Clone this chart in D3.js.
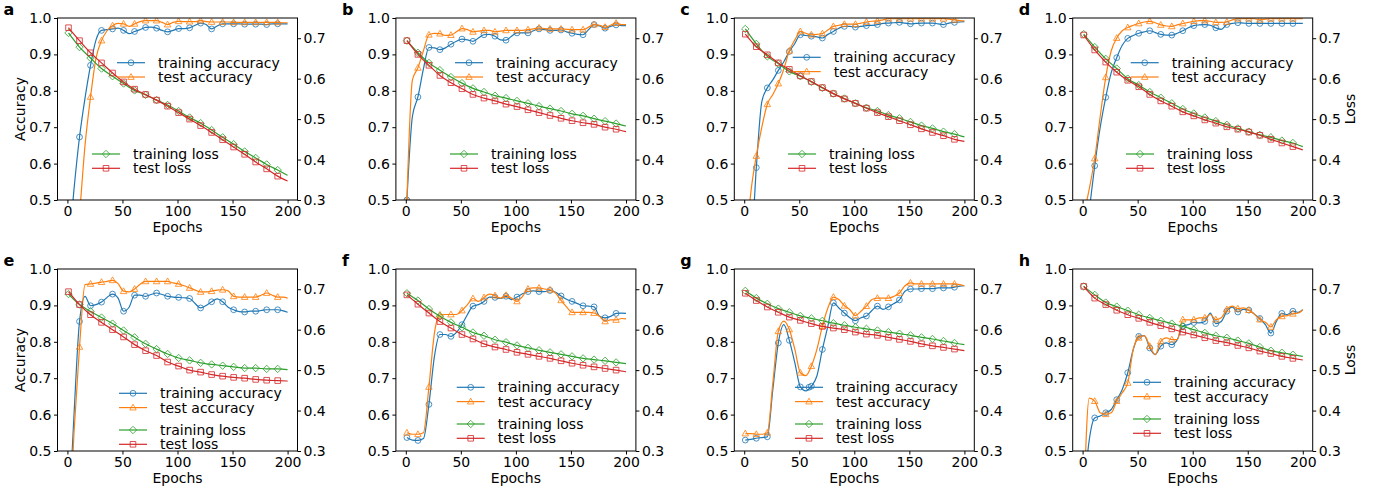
<!DOCTYPE html>
<html>
<head>
<meta charset="utf-8">
<script src="https://cdn.jsdelivr.net/npm/d3@7"></script>
<style>
  body { margin: 0; background: #fff; }
  svg { display: block; }
  text { font-family: "DejaVu Sans", sans-serif; }
</style>
</head>
<body>
<svg id="fig" width="1396" height="496"></svg>
<script>
// ---- epochs at which values are recorded ----
const accEpochs = [1, 6, 11, 16, 21, 26, 31, 36, 41, 46,
  51, 56, 61, 66, 71, 76, 81, 86, 91, 96,
  101, 106, 111, 116, 121, 126, 131, 136, 141, 146,
  151, 156, 161, 166, 171, 176, 181, 186, 191, 196, 200];
const lossEpochs = [1, 11, 21, 31, 41, 51, 61, 71, 81, 91, 101,
  111, 121, 131, 141, 151, 161, 171, 181, 191, 200];
const markerEpochs = [1, 11, 21, 31, 41, 51, 61, 71, 81, 91,
  101, 111, 121, 131, 141, 151, 161, 171, 181, 191];

// ---- tick labels ----
const xTicks = [0, 50, 100, 150, 200];
const accTicks = [0.5, 0.6, 0.7, 0.8, 0.9, 1.0];
const lossTicks = [0.3, 0.4, 0.5, 0.6, 0.7];
const panelLetters = ["a", "b", "c", "d", "e", "f", "g", "h"];
const seriesNames = ["training accuracy", "test accuracy", "training loss", "test loss"];

// ---- accuracy series ----
const accTrainA = [0.36, 0.53, 0.673, 0.78, 0.870, 0.94, 0.966, 0.968, 0.970, 0.972,
  0.966, 0.957, 0.963, 0.968, 0.974, 0.975, 0.972, 0.966, 0.962, 0.966,
  0.971, 0.971, 0.973, 0.980, 0.986, 0.982, 0.970, 0.978, 0.984, 0.984,
  0.984, 0.984, 0.983, 0.983, 0.983, 0.983, 0.982, 0.984, 0.984, 0.984, 0.984];
const accTestA = [0.15, 0.30, 0.46, 0.65, 0.783, 0.89, 0.938, 0.965, 0.979, 0.985,
  0.984, 0.977, 0.984, 0.990, 0.993, 0.993, 0.993, 0.988, 0.982, 0.988,
  0.991, 0.990, 0.990, 0.990, 0.993, 0.990, 0.989, 0.989, 0.989, 0.989,
  0.988, 0.988, 0.988, 0.988, 0.988, 0.988, 0.988, 0.988, 0.988, 0.987, 0.987];
const accTrainB = [0.50, 0.73, 0.783, 0.86, 0.919, 0.918, 0.913, 0.918, 0.928, 0.936,
  0.942, 0.940, 0.936, 0.945, 0.954, 0.955, 0.950, 0.940, 0.939, 0.950,
  0.959, 0.959, 0.959, 0.965, 0.970, 0.968, 0.966, 0.966, 0.967, 0.962,
  0.958, 0.955, 0.954, 0.968, 0.982, 0.978, 0.972, 0.977, 0.981, 0.979, 0.979];
const accTestB = [0.50, 0.83, 0.863, 0.91, 0.954, 0.958, 0.957, 0.952, 0.953, 0.962,
  0.971, 0.968, 0.962, 0.964, 0.966, 0.966, 0.962, 0.964, 0.966, 0.966,
  0.966, 0.966, 0.968, 0.970, 0.973, 0.971, 0.970, 0.970, 0.970, 0.969,
  0.968, 0.968, 0.968, 0.975, 0.982, 0.980, 0.975, 0.980, 0.986, 0.982, 0.982];
const accTrainC = [0.30, 0.35, 0.589, 0.77, 0.808, 0.83, 0.856, 0.88, 0.908, 0.93,
  0.954, 0.952, 0.950, 0.948, 0.945, 0.955, 0.963, 0.972, 0.977, 0.977,
  0.975, 0.977, 0.979, 0.980, 0.982, 0.985, 0.986, 0.987, 0.988, 0.986,
  0.984, 0.985, 0.986, 0.986, 0.986, 0.984, 0.982, 0.986, 0.988, 0.989, 0.990];
const accTestC = [0.35, 0.52, 0.621, 0.70, 0.763, 0.79, 0.820, 0.86, 0.910, 0.94,
  0.963, 0.958, 0.954, 0.955, 0.957, 0.967, 0.977, 0.980, 0.983, 0.983,
  0.983, 0.986, 0.989, 0.991, 0.992, 0.995, 0.998, 0.998, 0.998, 0.998,
  0.998, 0.998, 0.998, 0.998, 0.998, 0.998, 0.998, 0.997, 0.995, 0.993, 0.992];
const accTrainD = [0.35, 0.47, 0.594, 0.70, 0.782, 0.85, 0.891, 0.925, 0.944, 0.952,
  0.958, 0.962, 0.965, 0.960, 0.955, 0.953, 0.953, 0.958, 0.965, 0.973,
  0.979, 0.981, 0.982, 0.980, 0.973, 0.969, 0.982, 0.985, 0.987, 0.986,
  0.985, 0.985, 0.985, 0.985, 0.985, 0.985, 0.985, 0.985, 0.985, 0.985, 0.985];
const accTestD = [0.46, 0.53, 0.614, 0.73, 0.837, 0.91, 0.945, 0.965, 0.974, 0.980,
  0.985, 0.989, 0.991, 0.987, 0.981, 0.978, 0.977, 0.981, 0.985, 0.988,
  0.991, 0.993, 0.993, 0.991, 0.988, 0.988, 0.989, 0.995, 0.998, 0.998,
  0.998, 0.998, 0.995, 0.997, 0.998, 0.998, 0.998, 0.998, 0.998, 0.998, 0.998];
const accTrainE = [0.30, 0.60, 0.856, 0.925, 0.899, 0.902, 0.909, 0.922, 0.931, 0.920,
  0.884, 0.895, 0.928, 0.928, 0.925, 0.930, 0.934, 0.930, 0.925, 0.923,
  0.922, 0.921, 0.919, 0.905, 0.893, 0.900, 0.910, 0.918, 0.910, 0.895,
  0.888, 0.883, 0.882, 0.884, 0.884, 0.886, 0.888, 0.888, 0.888, 0.885, 0.881];
const accTestE = [0.25, 0.55, 0.786, 0.957, 0.959, 0.961, 0.964, 0.966, 0.969, 0.960,
  0.939, 0.937, 0.945, 0.958, 0.966, 0.966, 0.966, 0.966, 0.966, 0.962,
  0.959, 0.954, 0.948, 0.942, 0.937, 0.937, 0.939, 0.942, 0.943, 0.940,
  0.925, 0.923, 0.923, 0.923, 0.923, 0.928, 0.934, 0.928, 0.923, 0.923, 0.920];
const accTrainF = [0.537, 0.530, 0.529, 0.534, 0.628, 0.760, 0.820, 0.820, 0.815, 0.826,
  0.847, 0.875, 0.898, 0.902, 0.911, 0.923, 0.922, 0.919, 0.925, 0.916,
  0.923, 0.932, 0.938, 0.940, 0.938, 0.938, 0.941, 0.936, 0.926, 0.917,
  0.911, 0.905, 0.899, 0.898, 0.896, 0.870, 0.866, 0.870, 0.878, 0.879, 0.878];
const accTestF = [0.550, 0.546, 0.546, 0.550, 0.676, 0.824, 0.874, 0.875, 0.875, 0.875,
  0.886, 0.902, 0.919, 0.911, 0.922, 0.931, 0.927, 0.920, 0.928, 0.920,
  0.911, 0.925, 0.945, 0.948, 0.948, 0.945, 0.943, 0.934, 0.914, 0.896,
  0.881, 0.881, 0.881, 0.881, 0.879, 0.870, 0.856, 0.860, 0.860, 0.864, 0.863];
const accTrainG = [0.530, 0.532, 0.535, 0.537, 0.539, 0.669, 0.797, 0.847, 0.804, 0.742,
  0.676, 0.665, 0.678, 0.706, 0.779, 0.843, 0.907, 0.893, 0.879, 0.866,
  0.858, 0.866, 0.871, 0.886, 0.898, 0.889, 0.896, 0.905, 0.915, 0.939,
  0.945, 0.945, 0.946, 0.946, 0.946, 0.948, 0.948, 0.948, 0.950, 0.953, 0.954];
const accTestG = [0.548, 0.548, 0.546, 0.546, 0.550, 0.687, 0.829, 0.857, 0.834, 0.779,
  0.715, 0.707, 0.733, 0.779, 0.843, 0.893, 0.923, 0.916, 0.899, 0.888,
  0.872, 0.884, 0.898, 0.916, 0.920, 0.920, 0.920, 0.925, 0.934, 0.954,
  0.962, 0.959, 0.959, 0.959, 0.959, 0.959, 0.959, 0.959, 0.959, 0.957, 0.954];
const accTrainH = [0.38, 0.53, 0.591, 0.596, 0.605, 0.614, 0.641, 0.669, 0.715, 0.779,
  0.815, 0.817, 0.783, 0.765, 0.788, 0.797, 0.792, 0.806, 0.843, 0.847,
  0.853, 0.852, 0.856, 0.879, 0.850, 0.856, 0.884, 0.895, 0.882, 0.889,
  0.887, 0.876, 0.864, 0.847, 0.824, 0.856, 0.878, 0.875, 0.884, 0.881, 0.888];
const accTestH = [0.35, 0.645, 0.637, 0.605, 0.601, 0.605, 0.637, 0.660, 0.687, 0.779,
  0.811, 0.817, 0.788, 0.765, 0.801, 0.811, 0.806, 0.806, 0.861, 0.860,
  0.861, 0.866, 0.866, 0.875, 0.861, 0.866, 0.889, 0.898, 0.891, 0.893,
  0.887, 0.876, 0.861, 0.854, 0.841, 0.861, 0.870, 0.872, 0.877, 0.879, 0.888];

// ---- loss series ----
const lossTrainA = [0.713, 0.678, 0.651, 0.625, 0.606, 0.588, 0.571, 0.560, 0.547, 0.535, 0.520,
  0.504, 0.490, 0.473, 0.455, 0.438, 0.420, 0.404, 0.388, 0.374, 0.361];
const lossTestA = [0.726, 0.694, 0.664, 0.639, 0.614, 0.592, 0.574, 0.561, 0.547, 0.532, 0.516,
  0.500, 0.484, 0.467, 0.449, 0.431, 0.413, 0.394, 0.377, 0.359, 0.347];
const lossTrainB = [0.694, 0.664, 0.639, 0.621, 0.604, 0.589, 0.576, 0.567, 0.558, 0.552, 0.545,
  0.539, 0.532, 0.526, 0.520, 0.513, 0.508, 0.501, 0.495, 0.489, 0.483];
const lossTestB = [0.694, 0.660, 0.633, 0.608, 0.590, 0.575, 0.561, 0.552, 0.545, 0.537, 0.531,
  0.523, 0.516, 0.509, 0.502, 0.496, 0.491, 0.487, 0.480, 0.475, 0.469];
const lossTrainC = [0.723, 0.686, 0.655, 0.637, 0.618, 0.606, 0.592, 0.577, 0.563, 0.551, 0.539,
  0.528, 0.520, 0.510, 0.502, 0.493, 0.484, 0.477, 0.469, 0.463, 0.456];
const lossTestC = [0.710, 0.679, 0.659, 0.639, 0.623, 0.607, 0.593, 0.578, 0.563, 0.550, 0.539,
  0.527, 0.516, 0.506, 0.496, 0.486, 0.476, 0.467, 0.459, 0.450, 0.445];
const lossTrainD = [0.710, 0.678, 0.649, 0.625, 0.600, 0.584, 0.567, 0.553, 0.539, 0.525, 0.514,
  0.504, 0.495, 0.486, 0.477, 0.469, 0.461, 0.455, 0.447, 0.441, 0.432];
const lossTestD = [0.708, 0.671, 0.641, 0.616, 0.596, 0.580, 0.561, 0.545, 0.532, 0.518, 0.508,
  0.498, 0.490, 0.481, 0.475, 0.468, 0.460, 0.450, 0.441, 0.432, 0.424];
const lossTrainE = [0.688, 0.662, 0.645, 0.630, 0.615, 0.598, 0.581, 0.565, 0.552, 0.540, 0.530,
  0.524, 0.518, 0.514, 0.511, 0.508, 0.505, 0.505, 0.503, 0.503, 0.501];
const lossTestE = [0.694, 0.662, 0.637, 0.618, 0.600, 0.582, 0.563, 0.548, 0.536, 0.520, 0.510,
  0.500, 0.495, 0.489, 0.485, 0.482, 0.480, 0.477, 0.475, 0.474, 0.473];
const lossTrainF = [0.690, 0.672, 0.651, 0.633, 0.618, 0.606, 0.593, 0.585, 0.575, 0.569, 0.561,
  0.555, 0.549, 0.544, 0.539, 0.534, 0.529, 0.526, 0.523, 0.519, 0.516];
const lossTestF = [0.686, 0.663, 0.641, 0.620, 0.604, 0.588, 0.577, 0.565, 0.557, 0.551, 0.544,
  0.539, 0.534, 0.529, 0.523, 0.517, 0.512, 0.508, 0.504, 0.500, 0.496];
const lossTrainG = [0.696, 0.678, 0.664, 0.652, 0.643, 0.634, 0.628, 0.622, 0.616, 0.611, 0.606,
  0.602, 0.598, 0.594, 0.590, 0.586, 0.581, 0.577, 0.572, 0.567, 0.563];
const lossTestG = [0.690, 0.672, 0.656, 0.643, 0.631, 0.623, 0.615, 0.608, 0.604, 0.600, 0.594,
  0.589, 0.586, 0.581, 0.576, 0.571, 0.565, 0.560, 0.556, 0.552, 0.548];
const lossTrainH = [0.707, 0.686, 0.667, 0.657, 0.647, 0.637, 0.629, 0.622, 0.615, 0.608, 0.600,
  0.592, 0.585, 0.580, 0.573, 0.566, 0.557, 0.548, 0.543, 0.538, 0.534];
const lossTestH = [0.707, 0.678, 0.662, 0.648, 0.637, 0.628, 0.618, 0.610, 0.602, 0.594, 0.587,
  0.580, 0.573, 0.568, 0.561, 0.555, 0.547, 0.541, 0.534, 0.529, 0.525];

const panelSeries = [
  [accTrainA, accTestA, lossTrainA, lossTestA],
  [accTrainB, accTestB, lossTrainB, lossTestB],
  [accTrainC, accTestC, lossTrainC, lossTestC],
  [accTrainD, accTestD, lossTrainD, lossTestD],
  [accTrainE, accTestE, lossTrainE, lossTestE],
  [accTrainF, accTestF, lossTrainF, lossTestF],
  [accTrainG, accTestG, lossTrainG, lossTestG],
  [accTrainH, accTestH, lossTrainH, lossTestH]
];

// ---- layout ----
const colLeft = [57.5, 395.9, 734.3, 1072.7];
const rowTop = [18, 269];
const W = 240, H = 182;
const FONT = 14;
// legend placement inside each axes: [accX, accY, lossX, lossY] (handle start, first row centre)
const legendPos = [
  [59.5, 44.7, 34.5, 136], [59.1, 44.7, 54.1, 136], [58.4, 39.3, 53.7, 136], [58.0, 44.7, 53.3, 136],
  [61.5, 124.3, 61.5, 161], [60.8, 118.3, 60.8, 155], [60.7, 118.3, 60.7, 155], [60.3, 113.3, 60.3, 150]
];
const colors = ["#1f77b4", "#ff7f0e", "#2ca02c", "#d62728"];
const markerKind = ["circle", "triangle", "diamond", "square"];

function markerPath(kind) {
  switch (kind) {
    case "circle": { const r = 2.9; return `M${r},0A${r},${r} 0 1,1 ${-r},0A${r},${r} 0 1,1 ${r},0Z`; }
    case "triangle": { const s = 3.4; return `M0,${-s}L${s * 0.95},${s * 0.7}L${-s * 0.95},${s * 0.7}Z`; }
    case "diamond": { const s = 3.7; return `M0,${-s}L${s},0L0,${s}L${-s},0Z`; }
    default: { const s = 2.8; return `M${-s},${-s}H${s}V${s}H${-s}Z`; }
  }
}

const svg = d3.select("#fig");

panelSeries.forEach((series, pi) => {
  const col = pi % 4, row = Math.floor(pi / 4);
  const left = colLeft[col], top = rowTop[row];

  const x = d3.scaleLinear().domain([-9, 209]).range([0, W]);
  const yAcc = d3.scaleLinear().domain([0.5, 1.0]).range([H, 0]);
  const yLoss = d3.scaleLinear().domain([0.3, 0.75]).range([H, 0]);

  const g = svg.append("g").attr("transform", `translate(${left},${top})`);
  const clipId = `clip-${pi}`;
  g.append("clipPath").attr("id", clipId)
    .append("rect").attr("x", 0).attr("y", 0).attr("width", W).attr("height", H);

  const plot = g.append("g").attr("clip-path", `url(#${clipId})`);

  series.forEach((vals, si) => {
    const isAcc = si < 2;
    const ys = isAcc ? yAcc : yLoss;
    const eps = isAcc ? accEpochs : lossEpochs;
    const pts = eps.map((e, i) => [e, vals[i]]);
    const line = d3.line()
      .x(d => x(d[0])).y(d => ys(d[1]))
      .curve(d3.curveMonotoneX);
    plot.append("path")
      .attr("d", line(pts))
      .attr("fill", "none")
      .attr("stroke", colors[si])
      .attr("stroke-width", 1.2);
    const marks = pts.filter(d => markerEpochs.includes(d[0]));
    plot.selectAll(null).data(marks).enter().append("path")
      .attr("transform", d => `translate(${x(d[0])},${ys(d[1])})`)
      .attr("d", markerPath(markerKind[si]))
      .attr("fill", "none")
      .attr("stroke", colors[si])
      .attr("stroke-opacity", 0.8)
      .attr("stroke-width", 1);
  });

  // axes
  const styleAxis = sel => {
    sel.select(".domain").remove();
    sel.selectAll("text").attr("font-size", FONT).attr("fill", "#000")
      .attr("font-family", "DejaVu Sans, sans-serif");
    sel.selectAll("line").attr("stroke", "#000");
  };
  g.append("g").attr("transform", `translate(0,${H})`)
    .call(d3.axisBottom(x).tickValues(xTicks).tickFormat(d3.format("d"))
      .tickSize(3.5).tickPadding(2.5))
    .call(styleAxis);
  g.append("g")
    .call(d3.axisLeft(yAcc).tickValues(accTicks).tickFormat(d3.format(".1f"))
      .tickSize(3.5).tickPadding(2.5))
    .call(styleAxis);
  g.append("g").attr("transform", `translate(${W},0)`)
    .call(d3.axisRight(yLoss).tickValues(lossTicks).tickFormat(d3.format(".1f"))
      .tickSize(3.5).tickPadding(2.5))
    .call(styleAxis);

  // frame
  g.append("rect").attr("x", 0).attr("y", 0).attr("width", W).attr("height", H)
    .attr("fill", "none").attr("stroke", "#000").attr("stroke-width", 1);

  // axis titles
  g.append("text").attr("x", W / 2).attr("y", H + 31.5)
    .attr("text-anchor", "middle").attr("font-size", FONT).text("Epochs");
  if (col === 0) {
    g.append("text").attr("transform", `translate(${-38},${H / 2}) rotate(-90)`)
      .attr("text-anchor", "middle").attr("dominant-baseline", "central")
      .attr("font-size", FONT).text("Accuracy");
  }
  if (col === 3) {
    g.append("text").attr("transform", `translate(${W + 37.5},${H / 2}) rotate(-90)`)
      .attr("text-anchor", "middle").attr("dominant-baseline", "central")
      .attr("font-size", FONT).text("Loss");
  }

  // panel letter
  svg.append("text").attr("x", left - 54).attr("y", top - 3.5)
    .attr("font-size", 16).attr("font-weight", "bold").text(panelLetters[pi]);

  // legends
  const [ax, ay, lx, ly] = legendPos[pi];
  const gap = 14.3;
  [[0, ax, ay], [1, ax, ay + gap], [2, lx, ly], [3, lx, ly + gap]].forEach(([si, hx, hy]) => {
    const lg = g.append("g").attr("transform", `translate(${hx},${hy})`);
    lg.append("line").attr("x1", 0).attr("x2", 28).attr("y1", 0).attr("y2", 0)
      .attr("stroke", colors[si]).attr("stroke-width", 1.2);
    lg.append("path").attr("transform", "translate(14,0)")
      .attr("d", markerPath(markerKind[si]))
      .attr("fill", "none").attr("stroke", colors[si]).attr("stroke-opacity", 0.8);
    lg.append("text").attr("x", 41).attr("y", 0)
      .attr("dominant-baseline", "central").attr("font-size", FONT)
      .text(seriesNames[si]);
  });
});
</script>
</body>
</html>
